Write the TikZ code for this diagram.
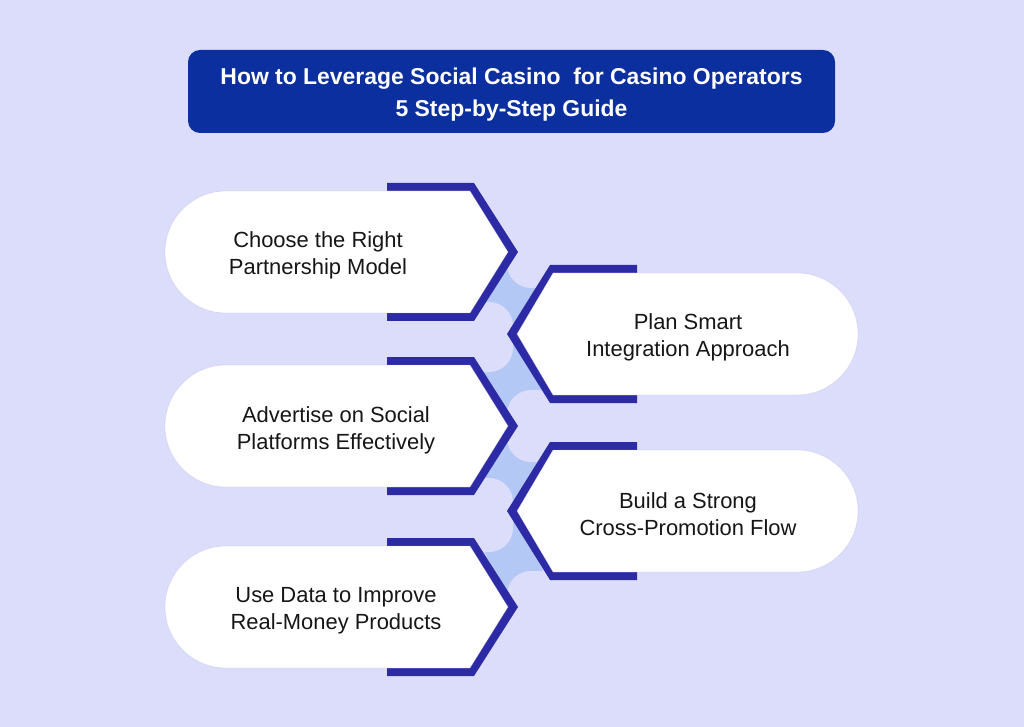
\documentclass[tikz,border=0pt]{standalone}
\usepackage{fontspec}
\setmainfont{Liberation Sans}
\usetikzlibrary{positioning}
\definecolor{bglav}{HTML}{DCDDFB}
\definecolor{titleblue}{HTML}{0B2F9F}
\definecolor{chevblue}{HTML}{2D2AA5}
\definecolor{bandblue}{HTML}{B4C8F6}
\definecolor{inkdark}{HTML}{161616}
\tikzset{
  titlebox/.style={fill=titleblue, rounded corners=0.3cm},
  titletext/.style={text=white, font=\bfseries\fontsize{16.3}{22.8}\selectfont,
    align=center, inner sep=0pt},
  steptext/.style={font=\fontsize{15.6}{19.2}\selectfont, text=inkdark,
    align=center, inner sep=0pt},
  chevron/.style={fill=chevblue},
  pill/.style={fill=white, draw=bglav!85!blue!90!black, draw opacity=0.25, line width=0.6pt},
  gapblob/.style={fill=bglav, rounded corners=0.6cm},
  band/.style={draw=bandblue, line width=1.075cm, line join=miter},
}

\begin{document}
\begin{tikzpicture}[x=0.025cm, y=-0.025cm]
\fill[bglav] (0,0) rectangle (1024,727);
\useasboundingbox (0,0) rectangle (1024,727);

% ---------------- TITLE ----------------
\fill[titlebox] (188,50) rectangle (835,133);
\node[titletext] (n-title) at (511.5,95)
  {How to Leverage Social Casino\ \ for Casino Operators\\5 Step-by-Step Guide};

% ---------------- CONNECTING BAND ----------------
\draw[band] (551,231) -- (538,252) -- (487,334) -- (537,426) -- (487,511) -- (538,607) -- (551,631);

% ---- gaps cut into the band ----
\fill[gapblob] (507,216) rectangle (600,288);
\fill[gapblob] (420,302) rectangle (513,372);
\fill[gapblob] (507,390) rectangle (600,462);
\fill[gapblob] (420,478) rectangle (513,552);
\fill[gapblob] (507,571) rectangle (600,643);

% ---------------- LEFT STEPS ----------------
\foreach \c in {252,426,607} {
  \fill[chevron] (387,\c-69) -- (474,\c-69) -- (518,\c) -- (474,\c+69) -- (387,\c+69) -- cycle;
  \path[pill] (226,\c-61) -- (470,\c-61) -- (508,\c) -- (470,\c+61) -- (226,\c+61)
    arc[start angle=90, end angle=270, radius=61] -- cycle;
}

% ---------------- RIGHT STEPS ----------------
\foreach \c in {334,511} {
  \fill[chevron] (637,\c-69) -- (550,\c-69) -- (507,\c) -- (550,\c+69) -- (637,\c+69) -- cycle;
  \path[pill] (517,\c) -- (553,\c-61) -- (797,\c-61)
    arc[start angle=270, end angle=450, radius=61] -- (553,\c+61) -- cycle;
}

% ---------------- STEP LABELS ----------------
\node[steptext] (n-choose) at (318,255) {Choose the Right\\Partnership Model};
\node[steptext] (n-plan) at (688,337) {Plan Smart\\Integration Approach};
\node[steptext] (n-advertise) at (336,430) {Advertise on Social\\Platforms Effectively};
\node[steptext] (n-build) at (688,514) {Build a Strong\\Cross-Promotion Flow};
\node[steptext] (n-usedata) at (336,611) {Use Data to Improve\\Real-Money Products};

\end{tikzpicture}
\end{document}
